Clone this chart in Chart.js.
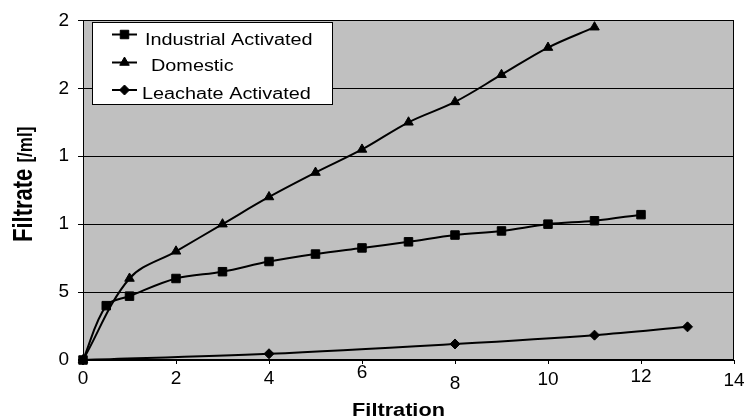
<!DOCTYPE html>
<html>
<head>
<meta charset="utf-8">
<script src="https://cdn.jsdelivr.net/npm/chart.js@4/dist/chart.umd.min.js"></script>
<style>
  html, body { margin: 0; background: #fff; }
  #wrap { width: 750px; height: 419px; position: relative; }
</style>
</head>
<body>
<div id="wrap"><canvas id="chart"></canvas></div>
<script>
/* Filtrate vs filtration — three sludge series on a grey plot, Excel look */

const SERIES_LABELS = ['Industrial Activated', 'Domestic', 'Leachate Activated'];

const industrialX = [0, 0.5, 1, 2, 3, 4, 5, 6, 7, 8, 9, 10, 11, 12];
const industrialY = [0, 4.0, 4.7, 6.0, 6.5, 7.25, 7.8, 8.25, 8.7, 9.2, 9.5, 10.0, 10.25, 10.7];

const domesticX = [0, 1, 2, 3, 4, 5, 6, 7, 8, 9, 10, 11];
const domesticY = [0, 6.0, 8.0, 10.0, 12.0, 13.8, 15.5, 17.5, 19.0, 21.0, 23.0, 24.5];

const leachateX = [0, 4, 8, 11, 13];
const leachateY = [0, 0.46, 1.18, 1.83, 2.44];

const X_TICKS = [0, 2, 4, 6, 8, 10, 12, 14];
const Y_TICKS = [0, 5, 10, 15, 20, 25];
const Y_TICK_LABELS = ['0', '5', '1', '1', '2', '2'];   // as printed (truncated) in the source

const X_TITLE = 'Filtration';
const Y_TITLE = ['Filtrate', '[/ml]'];

/* styling */
const FONT = '"Liberation Sans", Arial, sans-serif';
const STRETCH = 1.24;            // source image is widened horizontally
const X_LABEL_NUDGE = { 6: -6, 8: 5, 10: 1, 12: -2, 14: 2 };   // uneven label baselines
const LEGEND = {
  left: 92, top: 22, width: 240, height: 82,
  lineX0: 112, lineX1: 137,
  lineY: [34.5, 62.5, 90],
  textX: [145, 151, 142],
  textY: [45, 70.5, 99],
};

const pts = (xs, ys) => xs.map((x, i) => ({ x, y: ys[i] }));

function series(label, data, style, radius) {
  return {
    label, data,
    borderColor: '#000', borderWidth: 2,
    pointStyle: style, pointRadius: radius, pointHoverRadius: radius,
    pointBackgroundColor: '#000', pointBorderColor: '#000', pointBorderWidth: 1,
    tension: 0.35, fill: false, clip: false,
  };
}

const plotFrame = {
  id: 'plotFrame',
  beforeDraw(chart) {
    const { ctx, chartArea: a } = chart;
    ctx.save();
    ctx.fillStyle = '#c0c0c0';
    ctx.fillRect(a.left, a.top, a.right - a.left, a.bottom - a.top);
    ctx.restore();
  },
  afterDraw(chart) {
    const { ctx, chartArea: a } = chart;
    ctx.save();
    ctx.strokeStyle = '#000';
    ctx.lineWidth = 1;
    ctx.strokeRect(Math.round(a.left) + 0.5, Math.round(a.top) + 0.5,
      Math.round(a.right - a.left) - 1, Math.round(a.bottom - a.top) - 1);

    // axis titles (mixed weights, so drawn by hand)
    ctx.fillStyle = '#000';
    ctx.textAlign = 'center';
    ctx.textBaseline = 'alphabetic';
    ctx.save();
    ctx.translate(398.5, 416);
    ctx.scale(STRETCH, 1);
    ctx.font = 'bold 17.5px ' + FONT;
    ctx.fillText(X_TITLE, 0, 0);
    ctx.restore();

    ctx.save();
    ctx.translate(32, 242);
    ctx.scale(STRETCH, 1);
    ctx.rotate(-Math.PI / 2);
    ctx.textAlign = 'left';
    ctx.font = 'bold 22px ' + FONT;
    ctx.fillText(Y_TITLE[0], 0, 0);
    const w = ctx.measureText(Y_TITLE[0] + ' ').width;
    ctx.font = 'bold 17px ' + FONT;
    ctx.fillText(Y_TITLE[1], w, 0);
    ctx.restore();
    ctx.restore();
  }
};

const legendBox = {
  id: 'legendBox',
  afterDraw(chart) {
    const ctx = chart.ctx;
    const L = LEGEND;
    ctx.save();
    ctx.fillStyle = '#fff';
    ctx.fillRect(L.left, L.top, L.width, L.height);
    ctx.strokeStyle = '#000';
    ctx.lineWidth = 1;
    ctx.strokeRect(L.left + 0.5, L.top + 0.5, L.width, L.height);
    chart.data.datasets.forEach((ds, i) => {
      const y = L.lineY[i];
      const cx = (L.lineX0 + L.lineX1) / 2;
      ctx.beginPath();
      ctx.moveTo(L.lineX0, y);
      ctx.lineTo(L.lineX1, y);
      ctx.lineWidth = ds.borderWidth;
      ctx.strokeStyle = ds.borderColor;
      ctx.stroke();
      ctx.fillStyle = ds.pointBackgroundColor;
      ctx.strokeStyle = ds.pointBorderColor;
      ctx.lineWidth = 1;
      Chart.helpers.drawPoint(ctx, {
        pointStyle: ds.pointStyle, radius: ds.pointRadius, borderWidth: 1, rotation: 0
      }, cx, y);
      ctx.save();
      ctx.translate(L.textX[i], L.textY[i]);
      ctx.scale(STRETCH, 1);
      ctx.font = '16px ' + FONT;
      ctx.fillStyle = '#000';
      ctx.textAlign = 'left';
      ctx.textBaseline = 'alphabetic';
      ctx.fillText(ds.label, 0, 0);
      ctx.restore();
    });
    ctx.restore();
  }
};

new Chart(document.getElementById('chart'), {
  type: 'line',
  data: {
    datasets: [
      series(SERIES_LABELS[0], pts(industrialX, industrialY), 'rect', 6),
      series(SERIES_LABELS[1], pts(domesticX, domesticY), 'triangle', 5.5),
      series(SERIES_LABELS[2], pts(leachateX, leachateY), 'rectRot', 5),
    ]
  },
  options: {
    responsive: true,
    maintainAspectRatio: false,
    animation: false,
    layout: { padding: { left: 0, right: 16, top: 13, bottom: 0 } },
    plugins: { legend: { display: false }, tooltip: { enabled: false } },
    scales: {
      x: {
        type: 'linear',
        min: X_TICKS[0], max: X_TICKS[X_TICKS.length - 1],
        afterBuildTicks: (s) => { s.ticks = X_TICKS.map((v) => ({ value: v })); },
        afterFit: (s) => { s.height = 59; },
        grid: { drawOnChartArea: false, drawTicks: true, tickLength: 4, tickColor: '#000', color: '#000' },
        border: { color: '#000', width: 1 },
        ticks: {
          color: '#000',
          padding: 4,
          maxRotation: 0,
          autoSkip: false,
          font: (c) => {
            const n = (c.tick && X_LABEL_NUDGE[c.tick.value]) || 0;
            return { family: FONT, size: 19, lineHeight: (22 + 2 * n) / 19 };
          },
        },
      },
      y: {
        min: Y_TICKS[0], max: Y_TICKS[Y_TICKS.length - 1],
        afterBuildTicks: (s) => { s.ticks = Y_TICKS.map((v) => ({ value: v })); },
        afterFit: (s) => { s.width = 83; },
        grid: { color: '#000', lineWidth: 1, tickLength: 5, tickColor: '#000' },
        border: { color: '#000', width: 1 },
        ticks: {
          color: '#000',
          padding: 9,
          font: { family: FONT, size: 19 },
          callback: (v) => Y_TICK_LABELS[Y_TICKS.indexOf(v)],
        },
      },
    },
  },
  plugins: [plotFrame, legendBox],
});
</script>
</body>
</html>
